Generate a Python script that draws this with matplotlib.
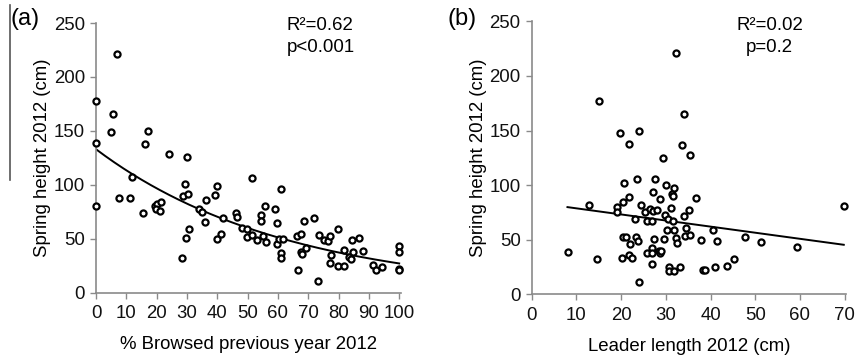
import matplotlib
matplotlib.use("Agg")
import matplotlib.pyplot as plt
from matplotlib.lines import Line2D
import numpy as np

plt.rcParams['font.family'] = ['Liberation Sans', 'DejaVu Sans']

# Panel (a): % browsed previous year vs spring height
browsed = [0, 6.8, 5.7, 5, 17, 0, 16.2, 24.2, 30.1, 51.6, 12,
           0, 7.6, 11.2, 15.4, 19.3, 20, 19.7, 21.1, 21.5, 28.4, 29.5, 28.8, 30.3,
           29.6, 30.8, 34.1, 34.8, 36.2, 35.9, 39.3, 39.9, 39.9, 41.1, 41.8, 46.3,
           46.5, 48.2, 49.8, 49.7, 51.6, 53.2, 54.3, 54.3, 55, 56, 55.8, 58.9,
           59.8, 59.8, 60.9, 60.3, 61, 61, 61.8, 66.4, 66.5, 67.6, 67.6, 68, 68.6,
           69.2, 71.8, 73.3, 73.7, 75.1, 76.5, 77.2, 77.6, 77.3, 79.8, 79.8, 81.7,
           81.8, 83.3, 84, 84.6, 84.9, 86.9, 88.1, 91.2, 92.5, 94.4, 99.9, 99.9,
           99.9, 100]
height_a = [178, 221, 166, 149, 150, 139, 137.7, 129, 126, 106, 107,
            80.7, 87.7, 87.7, 74, 80.7, 82, 77.6, 76, 84, 32, 100.6, 89.6, 91.4,
            51, 58.6, 77.3, 75, 86, 65.6, 90.8, 98.8, 49.4, 54.6, 69.3, 73.6,
            70.6, 60, 59, 51.5, 53.4, 48.5, 72.4, 66.3, 52.8, 46.6, 80.7, 77.3,
            64.4, 45.4, 95.7, 50, 36.8, 32, 50, 52.5, 21.5, 54.6, 38, 35.6, 66.3,
            41.4, 69.6, 11.3, 53.7, 48.5, 47.9, 52.5, 35.3, 27.6, 58.6, 24.5, 24.5,
            39.9, 33, 31.6, 48.8, 37.7, 50.3, 38.7, 26, 21.5, 24.2, 43.6, 38,
            22.4, 21]
# exponential fit coefficients
fit_a_coef = [133.0, -0.0159]

# Panel (b): leader length vs spring height
leader = [32.2, 15.1, 19.8, 24.1, 21.7, 34, 33.7, 35.4, 29.3,
          8.1, 12.8, 14.6, 19, 19.1, 20.1, 20.5, 20.7, 21.8, 20.4, 21, 22, 21.8,
          22.5, 23.1, 23.3, 23.7, 23.6, 24.1, 24.4, 25.3, 25.8, 25.9, 26.5, 26.8,
          26.8, 26.9, 27.1, 27.1, 27, 27.3, 27.5, 28.1, 28.6, 28.4, 28.8, 28.9,
          29.7, 30.1, 29.9, 30.2, 30.4, 30.7, 30.8, 31.1, 31.3, 31.5, 31.9, 31.7,
          31.9, 31.9, 32.2, 32.5, 33.2, 34.1, 34.6, 34.4, 35.1, 35.4, 36.7, 37.8,
          38.4, 38.7, 40.5, 40.9, 41.4, 43.6, 45.3, 47.8, 51.2, 59.3, 69.8]
height_b = [220.6, 177, 148, 149.4, 138, 165, 136.9, 127.7, 125,
            38.8, 81.7, 32, 80.4, 75, 33.6, 84.7, 101.8, 88.7, 52.3, 52.3, 46.2, 35.8,
            33, 69.4, 52.9, 48.9, 106, 11.6, 81.7, 75.5, 67, 37.6, 78, 42.5,
            27.8, 37.6, 93.3, 76.1, 67, 51, 105.5, 76.8, 87.2, 40, 38.2, 40,
            51, 100, 72.5, 59, 68.8, 25.4, 21.7, 78.6, 92, 90.2, 97, 66.7,
            59, 21.7, 51.7, 46.8, 24.8, 71.3, 60.9, 53.5, 77.4, 54.1, 88.4, 49.8,
            22.3, 22.3, 59, 25.4, 49.2, 26.3, 32, 52.9, 48, 43.4, 81]
fit_b_coef = [84.3, -0.558]
fit_b_range = [8.0, 69.8]

yticks = [0, 50, 100, 150, 200, 250]
xticks_a = [0, 10, 20, 30, 40, 50, 60, 70, 80, 90, 100]
xticks_b = [0, 10, 20, 30, 40, 50, 60, 70]

fig = plt.figure(figsize=(8.56, 3.59), dpi=100)
ax1 = fig.add_axes([96/856, (359-292.7)/359, (401-96)/856, (292.7-23)/359])
ax2 = fig.add_axes([531.7/856, (359-294.3)/359, (846-531.7)/856, (294.3-21.3)/359])

spine_col = '#8a8a8a'
fs = 13.4

def style(ax, xticks, xmax):
    for s in ['top', 'right']:
        ax.spines[s].set_visible(False)
    for s in ['left', 'bottom']:
        ax.spines[s].set_color(spine_col)
        ax.spines[s].set_linewidth(1.2)
    ax.set_ylim(0, 250)
    ax.set_xlim(0, xmax)
    ax.set_yticks(yticks)
    ax.set_xticks(xticks)
    ax.tick_params(axis='both', direction='out', length=4, width=1.0,
                   color=spine_col, labelsize=fs, labelcolor='#111111')
    ax.tick_params(axis='x', pad=5)
    ax.tick_params(axis='y', pad=4)
    ax.set_ylabel('Spring height 2012 (cm)', fontsize=fs, labelpad=2)

mk = dict(ls='none', marker='o', ms=4.4, mfc='white', mec='black', mew=1.6, clip_on=False, zorder=3)

style(ax1, xticks_a, 100.6)
ax1.plot(browsed, height_a, **mk)
xa = np.linspace(0, 100, 200)
ax1.plot(xa, fit_a_coef[0]*np.exp(fit_a_coef[1]*xa), color='black', lw=1.4, zorder=2)
ax1.set_xlabel('% Browsed previous year 2012', fontsize=fs, labelpad=10)
ax1.text(287/856, 1-26/359, 'R²=0.62', transform=fig.transFigure, fontsize=fs, ha='left', va='center')
ax1.text(287/856, 1-48/359, 'p<0.001', transform=fig.transFigure, fontsize=fs, ha='left', va='center')
fig.text(10/856, 1-19/359, '(a)', fontsize=17, ha='left', va='center')

style(ax2, xticks_b, 70.3)
ax2.plot(leader, height_b, **mk)
xb = np.array(fit_b_range)
ax2.plot(xb, fit_b_coef[0] + fit_b_coef[1]*xb, color='black', lw=1.4, zorder=2)
ax2.set_xlabel('Leader length 2012 (cm)', fontsize=fs, labelpad=10)
fig.text(769.5/856, 1-26/359, 'R²=0.02', fontsize=fs, ha='center', va='center')
fig.text(769.5/856, 1-48/359, 'p=0.2', fontsize=fs, ha='center', va='center')
fig.text(448/856, 1-19/359, '(b)', fontsize=17, ha='left', va='center')

# scan artifact vertical line at left edge
fig.add_artist(Line2D([10/856, 10/856], [1-5/359, 1-180/359], transform=fig.transFigure,
                      color='#555555', lw=1.2))

fig.savefig('out.png', dpi=100)
